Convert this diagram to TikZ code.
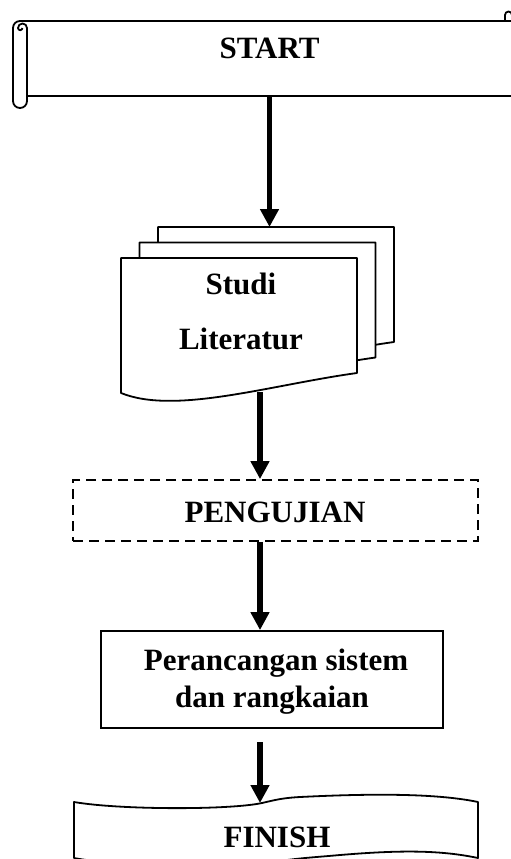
\documentclass[tikz,border=0pt]{standalone}
\usepackage{fontspec}
\setmainfont{Liberation Serif}
\usetikzlibrary{arrows.meta}
\begin{document}
\begin{tikzpicture}[x=1pt,y=-1pt,
  shapeline/.style={line width=1.8pt, line join=round},
  arr/.style={line width=5.5pt, -{Triangle[length=18pt,width=18pt]}},
  lbl/.style={font=\fontsize{31}{37}\selectfont\bfseries, inner sep=0pt, anchor=base},
  frame/.style={draw=none, inner sep=0pt}]
\useasboundingbox (0,0) rectangle (511,859);
\clip (0,0) rectangle (511,859);

% ---------- START (horizontal scroll) ----------
\node[frame, minimum width=484pt, minimum height=76pt] (start) at (269.5,58) {};
\draw[shapeline] (13,101) -- (13,28) arc[start angle=180, end angle=270, radius=7] -- (520,21);
\draw[shapeline] (13,101) arc[start angle=180, end angle=0, radius=7] -- (27,28)
      arc[start angle=0, end angle=-180, radius=4.5] arc[start angle=180, end angle=0, radius=2.2];
\draw[shapeline] (27,96) -- (520,96);
\draw[shapeline] (505,21) -- (505,15) arc[start angle=180, end angle=360, radius=3.5];
\node[lbl] (startlbl) at (269.5,59) {START};

% ---------- Studi Literatur (multi-document) ----------
\foreach \s in {2,1,0} {
  \begin{scope}[shift={(18.5*\s,-15.5*\s)}]
    \draw[shapeline, fill=white] (121,258) -- (357,258) -- (357,373)
      .. controls (270,385) and (175,415) .. (121,393) -- cycle;
  \end{scope}
}
\node[frame, minimum width=236pt, minimum height=135pt] (doc) at (239,325.5) {};
\coordinate (backtop) at (269.5,227);
\coordinate (docout) at (260,392);
\node[lbl] (studi) at (241,294.5) {Studi};
\node[lbl] (literatur) at (241,349.5) {Literatur};

% ---------- PENGUJIAN (dashed box) ----------
\node[draw, line width=1.8pt, dash pattern=on 10pt off 6pt, inner sep=0pt,
      minimum width=405pt, minimum height=61pt] (peng) at (275.5,510.5) {};
\node[lbl] (penglbl) at (275,522) {PENGUJIAN};

% ---------- Perancangan (process box) ----------
\node[draw, line width=1.8pt, inner sep=0pt,
      minimum width=342pt, minimum height=97pt] (peran) at (272,679.5) {};
\node[lbl] (per1) at (276,670) {Perancangan sistem};
\node[lbl] (per2) at (272,707) {dan rangkaian};

% ---------- FINISH (punched tape) ----------
\draw[shapeline, fill=white] (74,802)
   .. controls (120,810) and (230,810) .. (262,803)
   .. controls (275,800) and (282,798) .. (300,797)
   .. controls (380,793) and (440,794) .. (478,802)
   -- (478,858)
   .. controls (440,850) and (400,850) .. (340,855)
   .. controls (318,857) and (300,858) .. (280,861)
   .. controls (230,867) and (120,867) .. (74,858) -- cycle;
\node[frame, minimum width=404pt, minimum height=56pt] (finish) at (276,830) {};
\coordinate (fintop) at (260,803);
\coordinate (perout) at (260,742);
\node[lbl] (finlbl) at (277,847) {FINISH};

% ---------- connectors ----------
\draw[arr] (start.south) -- (backtop);
\draw[arr] (docout) -- (docout |- peng.north);
\draw[arr] (docout |- peng.south) -- (docout |- peran.north);
\draw[arr] (perout) -- (fintop);
\end{tikzpicture}
\end{document}
